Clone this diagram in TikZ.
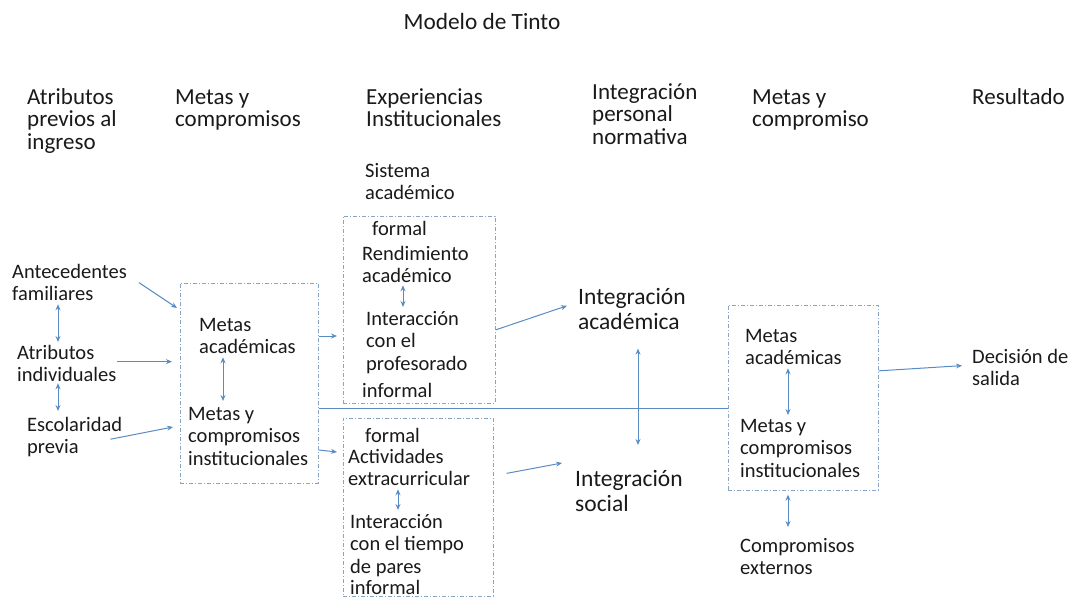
\documentclass[tikz,border=0pt]{standalone}
\usepackage{fontspec}
\setmainfont{Carlito}
\usetikzlibrary{arrows.meta}
\definecolor{arrc}{HTML}{5A8CC4}
\definecolor{boxc}{HTML}{8AA4C6}
\definecolor{txtc}{HTML}{1A1A1A}
\newcommand\tp{\rule{0pt}{18pt}}
\begin{document}
\begin{tikzpicture}[x=1pt,y=-1pt,
 body/.style={anchor=north west,inner sep=0pt,align=left,text=txtc,font=\fontsize{20.5}{22.7}\selectfont},
 hdr/.style={anchor=north west,inner sep=0pt,align=left,text=txtc,font=\fontsize{23}{22.7}\selectfont},
 big/.style={anchor=north west,inner sep=0pt,align=left,text=txtc,font=\fontsize{23.5}{25}\selectfont},
 ttl/.style={anchor=base,inner sep=0pt,text=txtc,font=\fontsize{23.3}{26}\selectfont},
 dbox/.style={draw=boxc,line width=0.7pt,dash pattern=on 4pt off 2pt on 1pt off 2pt,inner sep=0pt,anchor=north west},
 arr/.style={draw=arrc,line width=1pt,-{Stealth[length=6pt,width=5pt]}},
 darr/.style={draw=arrc,line width=1pt,{Stealth[length=6pt,width=5pt]}-{Stealth[length=6pt,width=5pt]}},
 ln/.style={draw=arrc,line width=1pt}]
\useasboundingbox (0,0) rectangle (1071,600);
\fill[white] (0,0) rectangle (1071,600);

% title and headers
\node[ttl] (title) at (482,29) {Modelo de Tinto};
\node[hdr] (h1) at (27,86) {\tp Atributos\\previos al\\ingreso};
\node[hdr] (h2) at (175,86) {\tp Metas y\\compromisos};
\node[hdr] (h3) at (366,86) {\tp Experiencias\\Institucionales};
\node[hdr] (h4) at (592,81) {\tp Integración\\personal\\normativa};
\node[hdr] (h5) at (752,86) {\tp Metas y\\compromiso};
\node[hdr] (h6) at (972,86) {\tp Resultado};

% left column
\node[body] (ante) at (12,260) {\tp Antecedentes\\familiares};
\node[body] (atr) at (17,341) {\tp Atributos\\individuales};
\node[body] (esc) at (27,413) {\tp Escolaridad\\previa};

% box A
\node[dbox,minimum width=138,minimum height=200] (boxA) at (180,283) {};
\node[body] (ma) at (199,313) {\tp Metas\\académicas};
\node[body] (mc) at (188,402) {\tp Metas y\\compromisos\\institucionales};

% experiencias
\node[body] (sis) at (365,159) {\tp Sistema\\académico};
\node[dbox,minimum width=152,minimum height=187] (box1) at (343,216) {};
\node[body] (f1) at (372,217) {\tp formal};
\node[body] (rend) at (362,242) {\tp Rendimiento\\académico};
\node[body] (int1) at (366,307) {\tp Interacción\\con el\\profesorado};
\node[body] (inf1) at (362,379) {\tp informal};

\node[dbox,minimum width=150,minimum height=178] (box2) at (343,418) {};
\node[body] (f2) at (365,424) {\tp formal};
\node[body] (act) at (348,445) {\tp Actividades\\extracurricular};
\node[body] (int2) at (350,510) {\tp Interacción\\con el tiempo\\de pares};
\node[body] (inf2) at (350,576) {\tp informal};

% integracion
\node[big] (intA) at (578,286) {\tp Integración\\académica};
\node[big] (intS) at (575,468) {\tp Integración\\social};

% box C
\node[dbox,minimum width=150,minimum height=185] (boxC) at (728,305) {};
\node[body] (ma2) at (745,324) {\tp Metas\\académicas};
\node[body] (mc2) at (740,414) {\tp Metas y\\compromisos\\institucionales};
\node[body] (ext) at (740,534) {\tp Compromisos\\externos};
\node[body] (dec) at (972,345) {\tp Decisión de\\salida};

% connectors
\draw[arr] ([xshift=12pt,yshift=-2pt]ante.east) -- ([xshift=-3pt,yshift=-25pt]boxA.north west);
\draw[arr] (atr.east) -- (atr.east -| boxA.west) [shorten >=8pt];
\draw[arr] ([xshift=-12pt,yshift=-4pt]esc.east) -- ([xshift=-7pt,yshift=-144pt]boxA.north west);
\draw[darr] ([xshift=46pt,yshift=-3pt]ante.south west) -- ([xshift=41pt,yshift=-1pt]atr.north west);
\draw[darr] ([xshift=41pt,yshift=-1pt]atr.south west) -- ([xshift=31pt,yshift=2pt]esc.north west);
\draw[darr] ([xshift=24pt,yshift=-3pt]ma.south west) -- ([xshift=35pt,yshift=1pt]mc.north west);

\draw[arr] ([yshift=-53pt]boxA.north east) -- ([xshift=-6pt,yshift=-120pt]box1.north west);
\draw[arr] ([yshift=-167pt]boxA.north east) -- ([xshift=-6pt,yshift=-34pt]box2.north west);
\draw[ln] ([yshift=-125pt]boxA.north east) -- ([yshift=-103pt]boxC.north west);

\draw[darr] ([xshift=41pt,yshift=-2pt]rend.south west) -- ([xshift=37pt,yshift=0pt]int1.north west);
\draw[darr] ([xshift=50pt,yshift=-3pt]act.south west) -- ([xshift=48pt,yshift=0pt]int2.north west);

\draw[arr] ([yshift=-20pt]box1.east) -- ([xshift=-11pt,yshift=2pt]intA.west);
\draw[arr] ([xshift=13pt,yshift=34pt]box2.east) -- ([xshift=-13pt,yshift=5pt]intS.north west);
\draw[darr] ([xshift=60pt,yshift=-19pt]intA.south west) -- ([xshift=63pt,yshift=23pt]intS.north west);

\draw[darr] ([xshift=43pt,yshift=-3pt]ma2.south west) -- ([xshift=48pt,yshift=-1pt]mc2.north west);
\draw[darr] ([xshift=60pt,yshift=-4pt]boxC.south west) -- ([xshift=48pt,yshift=7pt]ext.north west);
\draw[arr] ([yshift=27pt]boxC.east) -- ([xshift=-10pt]dec.west);
\end{tikzpicture}
\end{document}
